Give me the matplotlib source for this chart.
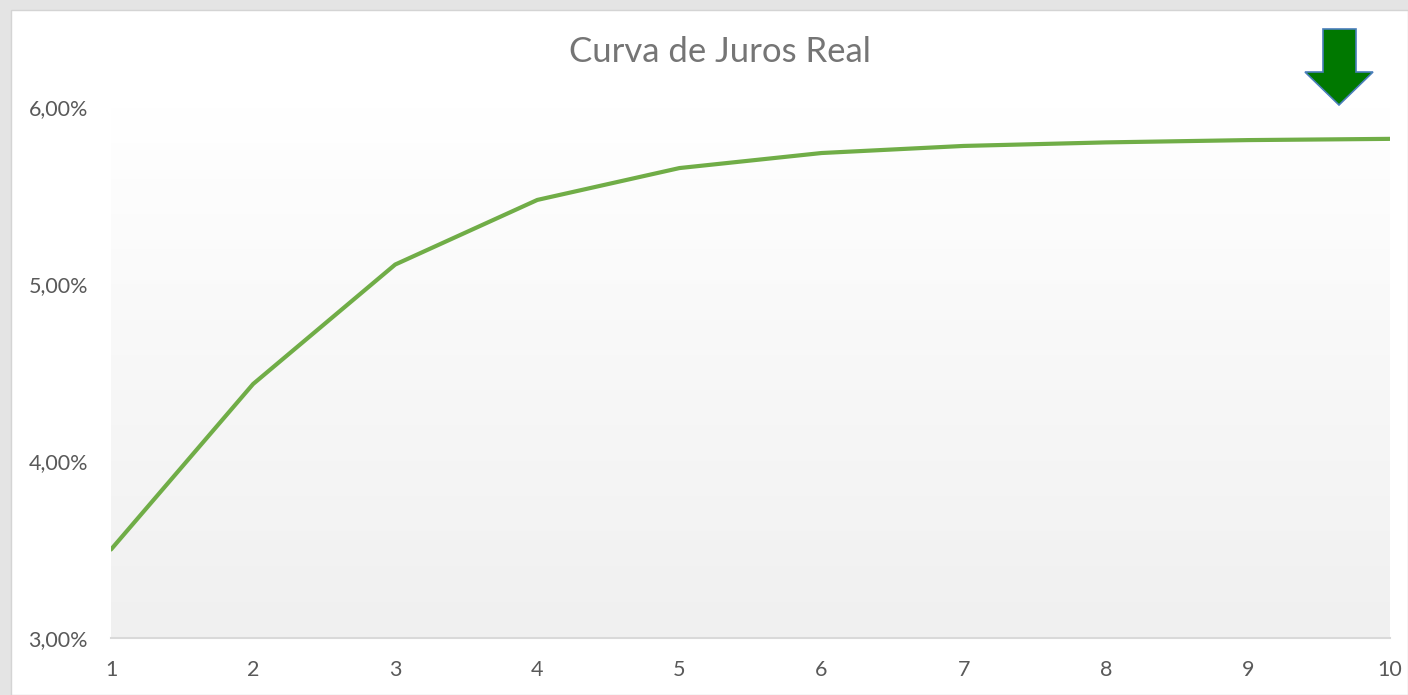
import numpy as np
import matplotlib.pyplot as plt
from matplotlib.patches import Polygon, Rectangle
from matplotlib.colors import LinearSegmentedColormap
from matplotlib.ticker import FuncFormatter

plt.rcParams['font.family'] = ['Lato', 'DejaVu Sans']

anos = [1, 2, 3, 4, 5, 6, 7, 8, 9, 10]
taxas = [3.50, 4.435, 5.11, 5.475, 5.655, 5.74, 5.78, 5.80, 5.813, 5.82]
yticks = [3, 4, 5, 6]

W, H = 1408, 695
fig = plt.figure(figsize=(W / 100, H / 100), dpi=100)
fig.patch.set_facecolor('#e4e4e4')
# white chart area (like an Excel chart inside a sheet)
fig.add_artist(Rectangle((11 / W, 0), 1 - 11 / W, (H - 10) / H,
                         transform=fig.transFigure, facecolor='white',
                         edgecolor='#d4d4d4', lw=1, zorder=-10))

ax = fig.add_axes([111 / W, 57 / H, (1390 - 111) / W, (638 - 107) / H])
ax.set_xlim(1, 10)
ax.set_ylim(3, 6)
ax.patch.set_alpha(0)

# gradient fill of the plot area
grad = np.linspace(0, 1, 256).reshape(-1, 1)
ax.imshow(grad, extent=[1, 10, 3, 6], aspect='auto', origin='upper',
          cmap=LinearSegmentedColormap.from_list('g', ['#ffffff', '#f0f0f0']),
          zorder=0)

ax.plot(anos, taxas, color='#70ad47', lw=3, solid_capstyle='round', zorder=3)

for s in ['top', 'right', 'left']:
    ax.spines[s].set_visible(False)
ax.spines['bottom'].set_color('#d9d9d9')
ax.spines['bottom'].set_linewidth(1.5)

ax.set_xticks(anos)
ax.set_yticks(yticks)
ax.yaxis.set_major_formatter(FuncFormatter(lambda v, p: f'{v:.2f}%'.replace('.', ',')))
ax.tick_params(axis='both', length=0, colors='#595959', labelsize=15.5)
ax.tick_params(axis='y', pad=16.5)
ax.tick_params(axis='x', pad=16)

fig.text(720 / W, 1 - 52 / H, 'Curva de Juros Real', ha='center', va='center',
         fontsize=25, color='#757575')

# green down arrow
px = [(1323, 29), (1356, 29), (1356, 72), (1373, 72), (1339, 105),
      (1305, 72), (1323, 72)]
fig.add_artist(Polygon([(x / W, 1 - y / H) for x, y in px], closed=True,
                       transform=fig.transFigure, facecolor='#007800',
                       edgecolor='#4a7ebb', lw=1.2, zorder=5))

fig.savefig('out.png', dpi=100, facecolor=fig.get_facecolor())
